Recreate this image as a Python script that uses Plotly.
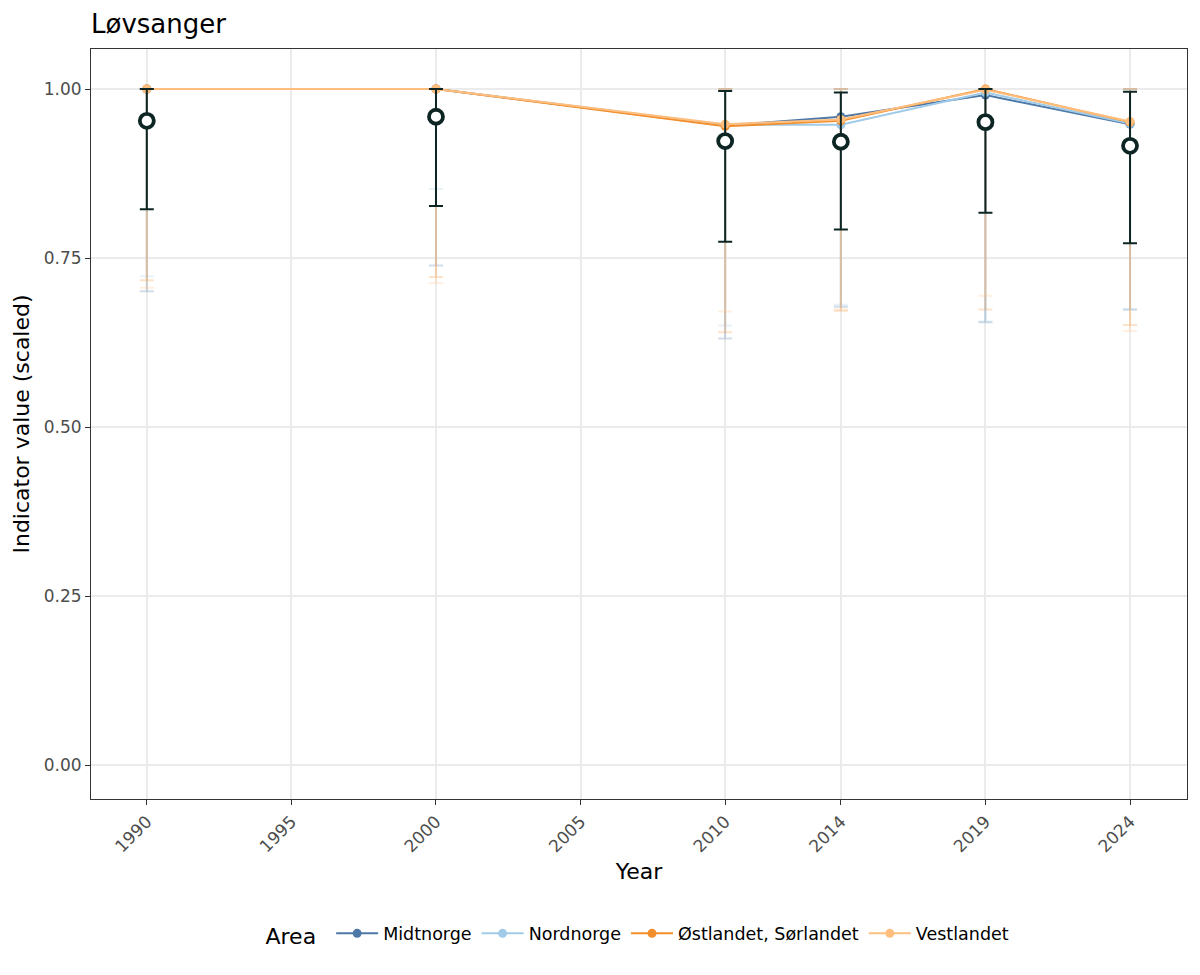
import plotly.graph_objects as go

years = [1990, 2000, 2010, 2014, 2019, 2024]

# Overall indicator
overall_val = [0.953, 0.959, 0.923, 0.922, 0.951, 0.916]
overall_low = [0.822, 0.827, 0.774, 0.792, 0.817, 0.772]
overall_up = [1.000, 1.000, 0.997, 0.995, 1.000, 0.996]

areas = ["Midtnorge", "Nordnorge", "Østlandet, Sørlandet", "Vestlandet"]
colors = ["#4E79A7", "#A0CBE8", "#F28E2B", "#FFBE7D"]
faint = ["rgba(78,121,167,0.25)", "rgba(160,203,232,0.25)",
         "rgba(242,142,43,0.25)", "rgba(255,190,125,0.25)"]

area_val = {
    "Midtnorge":            [1.000, 1.000, 0.946, 0.959, 0.991, 0.948],
    "Nordnorge":            [1.000, 1.000, 0.947, 0.947, 0.995, 0.949],
    "Østlandet, Sørlandet": [1.000, 1.000, 0.945, 0.953, 1.000, 0.951],
    "Vestlandet":           [1.000, 1.000, 0.948, 0.955, 0.999, 0.952],
}
area_low = {
    "Midtnorge":            [0.701, 0.739, 0.631, 0.678, 0.655, 0.674],
    "Nordnorge":            [0.723, 0.852, 0.650, 0.681, 0.656, 0.674],
    "Østlandet, Sørlandet": [0.717, 0.722, 0.640, 0.672, 0.674, 0.651],
    "Vestlandet":           [0.706, 0.713, 0.671, 0.674, 0.694, 0.642],
}
area_up = {
    "Midtnorge":            [1.0, 1.0, 1.0, 1.0, 1.0, 1.0],
    "Nordnorge":            [1.0, 1.0, 1.0, 1.0, 1.0, 1.0],
    "Østlandet, Sørlandet": [1.0, 1.0, 1.0, 1.0, 1.0, 1.0],
    "Vestlandet":           [1.0, 1.0, 1.0, 1.0, 1.0, 1.0],
}

x_ticks = [1990, 1995, 2000, 2005, 2010, 2014, 2019, 2024]
y_ticks = [0.0, 0.25, 0.5, 0.75, 1.0]
y_tick_text = ["0.00", "0.25", "0.50", "0.75", "1.00"]

dark = "#0d2624"
fig = go.Figure()

# faint area error bars
for a, fc in zip(areas, faint):
    v = area_val[a]
    fig.add_trace(go.Scatter(
        x=years, y=v, mode="markers",
        marker=dict(size=1, opacity=0),
        error_y=dict(type="data", symmetric=False,
                     array=[u - y for u, y in zip(area_up[a], v)],
                     arrayminus=[y - l for l, y in zip(area_low[a], v)],
                     color=fc, thickness=2, width=7),
        showlegend=False, hoverinfo="skip"))

# area lines
for a, c in zip(areas, colors):
    fig.add_trace(go.Scatter(
        x=years, y=area_val[a], mode="lines+markers", name=a,
        line=dict(color=c, width=2),
        marker=dict(color=c, size=9),
        legendgroup=a))

# overall
fig.add_trace(go.Scatter(
    x=years, y=overall_val, mode="markers",
    marker=dict(symbol="circle", size=14, color="white",
                line=dict(color=dark, width=3.8)),
    error_y=dict(type="data", symmetric=False,
                 array=[u - y for u, y in zip(overall_up, overall_val)],
                 arrayminus=[y - l for l, y in zip(overall_low, overall_val)],
                 color=dark, thickness=2, width=7),
    showlegend=False))

fig.update_layout(
    width=1192, height=967,
    paper_bgcolor="white", plot_bgcolor="white",
    font=dict(family="DejaVu Sans", color="black"),
    margin=dict(l=82, r=12, t=41, b=176),
    title=dict(text="Løvsanger", x=0, xref="paper", xanchor="left",
               y=1 - 7 / 967, yref="container", yanchor="top",
               font=dict(size=26, color="black")),
    legend=dict(orientation="h", x=0.5, xanchor="center",
                y=-0.1813, yanchor="middle",
                title=dict(text="Area ", font=dict(size=22), side="left"),
                font=dict(size=17.5), itemwidth=42),
    xaxis=dict(range=[1988.07, 2025.97], tickmode="array", tickvals=x_ticks,
               ticktext=[str(t) for t in x_ticks], tickangle=-45,
               showgrid=True, gridcolor="#ebebeb", gridwidth=1.5,
               zeroline=False, showline=True, mirror=True,
               linecolor="#333333", linewidth=1,
               ticks="outside", ticklen=5, tickcolor="#333333",
               tickfont=dict(size=17, color="#4d4d4d"),
               title=dict(text="Year", font=dict(size=22), standoff=8)),
    yaxis=dict(range=[-0.0503, 1.0592], tickmode="array", tickvals=y_ticks,
               ticktext=y_tick_text,
               showgrid=True, gridcolor="#ebebeb", gridwidth=1.5,
               zeroline=False, showline=True, mirror=True,
               linecolor="#333333", linewidth=1,
               ticks="outside", ticklen=5, tickcolor="#333333",
               tickfont=dict(size=17, color="#4d4d4d"),
               title=dict(text="Indicator value (scaled)", font=dict(size=22),
                          standoff=8)),
)

fig.write_html("out.html")
